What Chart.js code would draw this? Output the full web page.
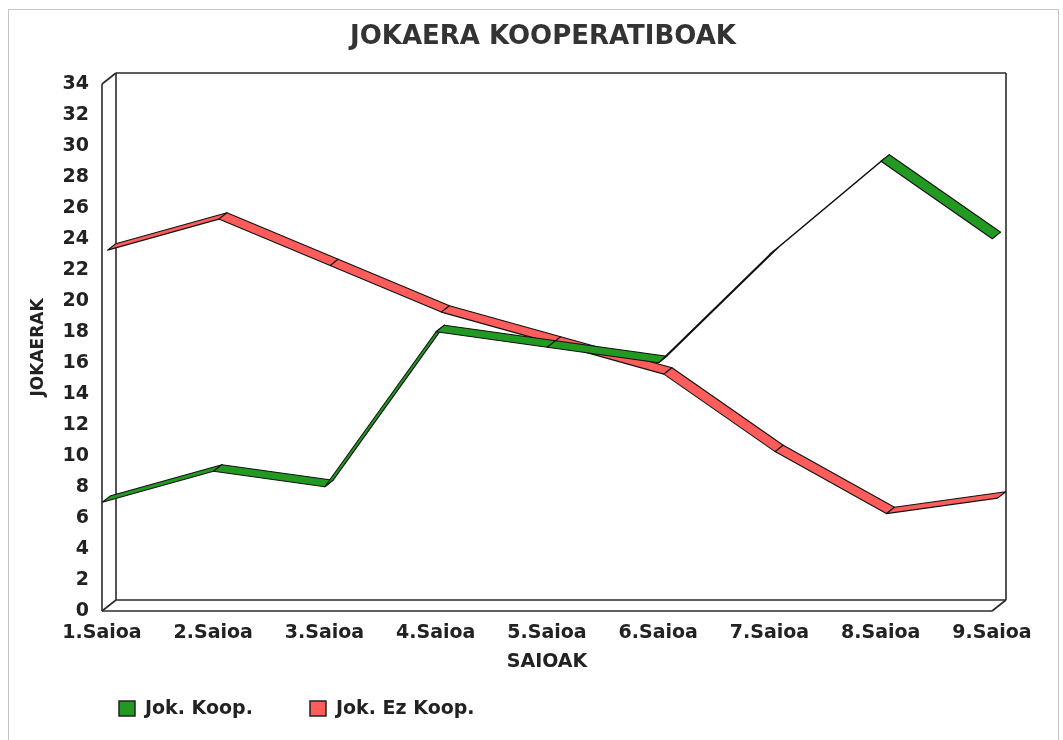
<!DOCTYPE html>
<html>
<head>
<meta charset="utf-8">
<script src="https://cdn.jsdelivr.net/npm/chart.js@4.4.1/dist/chart.umd.min.js"></script>
<style>
html, body { margin: 0; padding: 0; background: #ffffff; }
#wrap { position: absolute; left: 0; top: 0; width: 1063px; height: 740px; }
</style>
</head>
<body>
<div id="wrap"><canvas id="c" width="1063" height="740"></canvas></div>
<script>
// ---- data ----
const categories = ['1.Saioa', '2.Saioa', '3.Saioa', '4.Saioa', '5.Saioa', '6.Saioa', '7.Saioa', '8.Saioa', '9.Saioa'];
const seriesNames = ['Jok. Koop.', 'Jok. Ez Koop.'];
const jokKoop = [7, 9, 8, 18, 17, 16, 23, 29, 24];
const jokEzKoop = [23, 25, 22, 19, 17, 15, 10, 6, 7];
const yTicks = [0, 2, 4, 6, 8, 10, 12, 14, 16, 18, 20, 22, 24, 26, 28, 30, 32, 34];
const chartTitle = 'JOKAERA KOOPERATIBOAK';
const xTitle = 'SAIOAK';
const yTitle = 'JOKAERAK';

// ---- styling ----
const FONT = 'DejaVu Sans';
const TEXT = '#222222';
const seriesFill = ['#229a22', '#ff5c5c'];
const DEPTH = { dx: 14, dy: -11 };          // 3D depth of the plot box
const LANES = [[0.02, 0.62], [0.40, 0.98]]; // depth band of each ribbon

Chart.defaults.font.family = FONT;

const threeD = {
  id: 'threeD',
  beforeDraw(chart) {
    const c = chart.ctx;
    c.save();
    c.strokeStyle = '#c4c4c4';
    c.lineWidth = 1;
    c.strokeRect(8.5, 9.5, 1050, 760);
    c.restore();
  },
  beforeDatasetsDraw(chart) {
    const { left, right, top, bottom } = chart.chartArea;
    const { dx, dy } = DEPTH;
    const c = chart.ctx;
    c.save();
    c.strokeStyle = '#2a2a2a';
    c.lineWidth = 1.6;
    const seg = (x1, y1, x2, y2) => { c.beginPath(); c.moveTo(x1, y1); c.lineTo(x2, y2); c.stroke(); };
    seg(left, top, left, bottom);
    seg(left + dx, top + dy, left + dx, bottom + dy);
    seg(left, top, left + dx, top + dy);
    seg(left, bottom, left + dx, bottom + dy);
    seg(left, bottom, right, bottom);
    seg(left + dx, bottom + dy, right + dx, bottom + dy);
    seg(right, bottom, right + dx, bottom + dy);
    seg(right + dx, bottom + dy, right + dx, top + dy);
    seg(left + dx, top + dy, right + dx, top + dy);
    c.restore();
  },
  afterDatasetsDraw(chart) {
    const c = chart.ctx;
    const { dx, dy } = DEPTH;
    c.save();
    c.lineWidth = 1.1;
    c.lineJoin = 'round';
    c.strokeStyle = '#111111';
    // back lane first, then front lane
    for (let k = chart.data.datasets.length - 1; k >= 0; k--) {
      const meta = chart.getDatasetMeta(k);
      const [d0, d1] = LANES[k];
      c.fillStyle = chart.data.datasets[k].backgroundColor;
      const pts = meta.data;
      for (let i = 0; i < pts.length - 1; i++) {
        const a = pts[i], b = pts[i + 1];
        c.beginPath();
        c.moveTo(a.x + d0 * dx, a.y + d0 * dy);
        c.lineTo(b.x + d0 * dx, b.y + d0 * dy);
        c.lineTo(b.x + d1 * dx, b.y + d1 * dy);
        c.lineTo(a.x + d1 * dx, a.y + d1 * dy);
        c.closePath();
        c.fill();
        c.stroke();
      }
    }
    c.restore();
  },
  afterDraw(chart) {
    // legend
    const c = chart.ctx;
    const boxX = [119, 310];
    c.save();
    c.font = 'bold 19px "' + FONT + '"';
    c.textBaseline = 'middle';
    c.textAlign = 'left';
    chart.data.datasets.forEach((ds, i) => {
      c.fillStyle = ds.backgroundColor;
      c.fillRect(boxX[i], 701, 16, 15);
      c.strokeStyle = '#222';
      c.lineWidth = 1.5;
      c.strokeRect(boxX[i], 701, 16, 15);
      c.fillStyle = TEXT;
      c.fillText(ds.label, boxX[i] + 26, 709);
    });
    c.restore();
  }
};

new Chart(document.getElementById('c'), {
  type: 'line',
  data: {
    labels: categories,
    datasets: [
      { label: seriesNames[0], data: jokKoop, backgroundColor: seriesFill[0], borderColor: '#151515',
        showLine: false, pointRadius: 0, pointHoverRadius: 0 },
      { label: seriesNames[1], data: jokEzKoop, backgroundColor: seriesFill[1], borderColor: '#151515',
        showLine: false, pointRadius: 0, pointHoverRadius: 0 }
    ]
  },
  options: {
    responsive: false,
    animation: false,
    devicePixelRatio: 1,
    layout: { padding: { left: 24, right: 1, top: 0, bottom: 66.4 } },
    plugins: {
      legend: { display: false },
      tooltip: { enabled: false },
      title: {
        display: true, text: chartTitle, color: '#333333',
        font: { size: 26, weight: 'bold' },
        padding: { top: 21.4, bottom: 31.4 }
      }
    },
    scales: {
      x: {
        type: 'category',
        offset: false,
        grid: { display: false, drawTicks: false },
        border: { display: false },
        ticks: { padding: 11, color: TEXT, maxRotation: 0, autoSkip: false, font: { size: 19, weight: 'bold' } },
        title: { display: true, text: xTitle, color: TEXT, font: { size: 19, weight: 'bold' }, padding: { top: -5, bottom: 0 } }
      },
      y: {
        min: yTicks[0],
        max: yTicks[yTicks.length - 1],
        grid: { display: false, drawTicks: false },
        border: { display: false },
        ticks: { stepSize: yTicks[1] - yTicks[0], padding: 13, color: TEXT, font: { size: 19, weight: 'bold' } },
        title: { display: true, text: yTitle, color: TEXT, font: { size: 17, weight: 'bold' }, padding: { top: 4, bottom: 0 } },
        afterFit(s) { s.width = 78; }
      },
      yR: {
        position: 'right',
        display: true,
        grid: { display: false, drawTicks: false },
        border: { display: false },
        ticks: { display: false },
        afterFit(s) { s.width = 70; }
      }
    }
  },
  plugins: [threeD]
});
</script>
</body>
</html>
